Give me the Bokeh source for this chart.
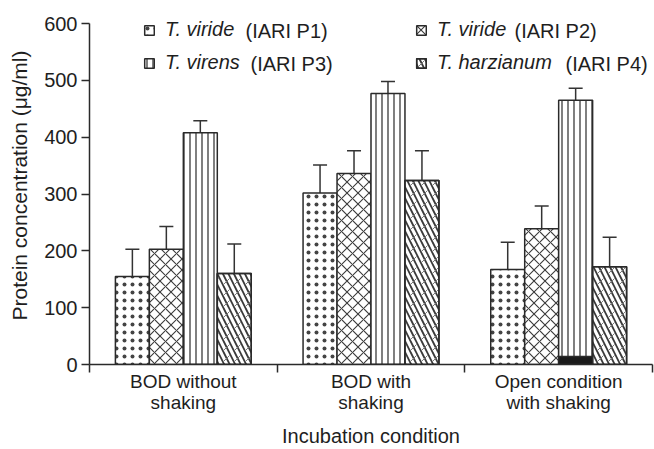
from bokeh.plotting import figure
from bokeh.models import (ColumnDataSource, Whisker, TeeHead, FixedTicker, Legend,
                          LegendItem, Label, Range1d)
from bokeh.embed import file_html
from bokeh.resources import INLINE

# ---- data ----
conditions = ["BOD without\nshaking", "BOD with\nshaking", "Open condition\nwith shaking"]
species = ["T. viride", "T. viride", "T. virens", "T. harzianum"]
isolates = ["(IARI P1)", "(IARI P2)", "(IARI P3)", "(IARI P4)"]
p1 = [155, 302, 167]
p1_err = [48, 49, 48]
p2 = [203, 336, 239]
p2_err = [40, 40, 40]
p3 = [408, 477, 465]
p3_err = [21, 21, 21]
p4 = [160, 324, 172]
p4_err = [52, 52, 52]
p3_base = [0, 0, 14]
y_ticks = [0, 100, 200, 300, 400, 500, 600]

FONT = "Liberation Sans"
TXT = "#1e1e1e"
INK = "#2a2a2a"

p = figure(width=654, height=449, output_backend="svg", toolbar_location=None,
           x_range=Range1d(0, 3), y_range=Range1d(0, 630),
           min_border_left=89, min_border_right=2, min_border_top=6,
           min_border_bottom=83)
p.outline_line_color = None
p.grid.grid_line_color = None
p.background_fill_color = "white"

bw = 0.181
series = [p1, p2, p3, p4]
errs = [p1_err, p2_err, p3_err, p4_err]
hatch = [
    dict(hatch_pattern="dot", hatch_scale=8, hatch_weight=0.6, hatch_color="#444444"),
    dict(hatch_pattern="diagonal_cross", hatch_scale=11, hatch_weight=1.1, hatch_color="#3a3a3a"),
    dict(hatch_pattern="vertical_line", hatch_scale=6, hatch_weight=1.3, hatch_color="#3a3a3a"),
    dict(hatch_pattern="left_diagonal_line", hatch_scale=11, hatch_weight=1.8, hatch_color="#3a3a3a"),
]

renderers = []
for k in range(4):
    xs = [g + 0.5 + (k - 1.5) * bw for g in range(len(conditions))]
    src = ColumnDataSource(dict(x=xs, top=series[k],
                                upper=[v + e for v, e in zip(series[k], errs[k])],
                                lower=[v - e for v, e in zip(series[k], errs[k])]))
    r = p.vbar(x="x", top="top", width=bw, bottom=0, source=src,
               fill_color="white", line_color=INK, line_width=1.5, **hatch[k])
    rs = [r]
    if k == 3:
        r2 = p.vbar(x="x", top="top", width=bw, bottom=0, source=src,
                    fill_alpha=0, line_color=INK, line_width=1.5,
                    hatch_color="#777777", hatch_pattern="right_diagonal_dash",
                    hatch_scale=11, hatch_weight=1.0)
        rs.append(r2)
    if k == 2:
        bsrc = ColumnDataSource(dict(x=xs, top=p3_base))
        p.vbar(x="x", top="top", width=bw, bottom=0, source=bsrc,
               fill_color="#1a1a1a", line_color=INK, line_width=1.5)
    renderers.append(rs)
    w = Whisker(base="x", upper="upper", lower="lower", source=src,
                line_color="#333333", line_width=1.5,
                upper_head=TeeHead(size=14, line_color="#333333", line_width=1.5),
                lower_head=TeeHead(size=14, line_color="#333333", line_width=1.5))
    p.add_layout(w)

# ---- axes ----
ya = p.yaxis[0]
ya.ticker = FixedTicker(ticks=y_ticks)
ya.bounds = (y_ticks[0], y_ticks[-1])
ya.minor_tick_line_color = None
ya.major_tick_in = 0
ya.major_tick_out = 8
ya.major_tick_line_width = 1.5
ya.major_tick_line_color = INK
ya.axis_line_width = 1.5
ya.axis_line_color = INK
ya.major_label_text_font = FONT
ya.major_label_text_font_size = "20px"
ya.major_label_text_color = TXT
ya.major_label_standoff = 4
ya.axis_label = "Protein concentration (\u03bcg/ml)"
ya.axis_label_text_font = FONT
ya.axis_label_text_font_size = "21px"
ya.axis_label_text_font_style = "normal"
ya.axis_label_text_color = TXT
ya.axis_label_standoff = 10

xa = p.xaxis[0]
centers = [g + 0.5 for g in range(len(conditions))]
xa.ticker = FixedTicker(ticks=centers, minor_ticks=list(range(len(conditions) + 1)))
xa.major_label_overrides = {c: lab for c, lab in zip(centers, conditions)}
xa.major_tick_line_color = None
xa.major_tick_out = 0
xa.major_tick_in = 0
xa.minor_tick_in = 0
xa.minor_tick_out = 8
xa.minor_tick_line_width = 1.5
xa.minor_tick_line_color = INK
xa.axis_line_width = 1.5
xa.axis_line_color = INK
xa.major_label_text_font = FONT
xa.major_label_text_font_size = "19px"
xa.major_label_text_line_height = 1.0
xa.major_label_text_color = TXT
xa.major_label_standoff = -2
xa.axis_label = "Incubation condition"
xa.axis_label_text_font = FONT
xa.axis_label_text_font_size = "20px"
xa.axis_label_text_font_style = "normal"
xa.axis_label_text_color = TXT
xa.axis_label_standoff = 9

# ---- legend (italic species + upright isolate code) ----
leg_pos = [(54, 323), (326, 323), (54, 290), (326, 290)]
iso_pos = [(156, 334), (425, 334), (161, 301), (476, 301)]
for k in range(4):
    leg = Legend(items=[LegendItem(label=species[k], renderers=renderers[k])],
                 location=leg_pos[k], orientation="vertical",
                 label_text_font=FONT, label_text_font_style="italic",
                 label_text_font_size="20px", label_text_color=TXT,
                 glyph_width=12, glyph_height=12, label_height=22,
                 label_standoff=10, padding=0, margin=0, spacing=0,
                 border_line_color=None, background_fill_alpha=0)
    p.add_layout(leg)
    p.add_layout(Label(x=iso_pos[k][0], y=iso_pos[k][1], x_units="screen", y_units="screen",
                       text=isolates[k], text_font=FONT, text_font_size="20px",
                       text_color=TXT, text_baseline="middle", text_align="left"))

open("out.html", "w").write(file_html(p, INLINE))
